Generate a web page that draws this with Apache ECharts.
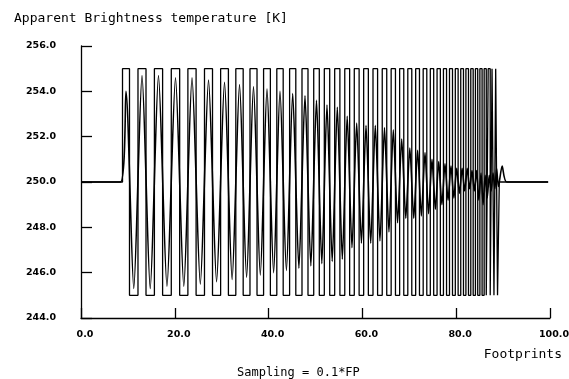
<!DOCTYPE html>
<html>
<head>
<meta charset="utf-8">
<script src="https://cdn.jsdelivr.net/npm/echarts@6/dist/echarts.min.js"></script>
<style>
  html, body { margin: 0; padding: 0; background: #fff; }
  #chart { width: 569px; height: 379px; }
</style>
</head>
<body>
<div id="chart"></div>
<script>
// square wave edges (footprints)
const riseAt = [8.85, 12.15, 15.65, 19.25, 22.79, 26.33, 29.77, 33.01, 36.03, 38.93,
  41.75, 44.48, 47.12, 49.62, 51.88, 54.09, 56.24, 58.27, 60.27, 62.26,
  64.23, 66.13, 67.94, 69.68, 71.36, 72.96, 74.48, 75.92, 77.28, 78.57,
  79.81, 80.97, 82.07, 83.11, 84.10, 85.05, 85.96, 86.82, 87.64, 88.42];
const fallAt = [10.34, 13.86, 17.40, 21.04, 24.54, 28.04, 31.43, 34.58, 37.53, 40.38,
  43.11, 45.80, 48.40, 50.81, 53.03, 55.20, 57.28, 59.30, 61.27, 63.24,
  65.19, 67.05, 68.82, 70.53, 72.17, 73.73, 75.20, 76.62, 77.94, 79.21,
  80.41, 81.55, 82.62, 83.62, 84.59, 85.52, 86.41, 87.25, 88.05, 88.81];
const waveEnd = 89.19;
const highLevel = 255;
const lowLevel = 245;
const baseLevel = 250;
const lineEnd = 99.6;

// response curve: peaks and troughs
const peakAt = [9.59, 13.01, 16.52, 20.15, 23.67, 27.19, 30.60, 33.80, 36.78, 39.66,
  42.43, 45.14, 47.76, 50.21, 52.45, 54.65, 56.76, 58.78, 60.77, 62.75,
  64.71, 66.59, 68.38, 70.11, 71.77, 73.35, 74.84, 76.27, 77.61, 78.89,
  80.11, 81.26, 82.35, 83.37, 84.35, 85.29, 86.18, 87.04, 87.85, 88.61];
const peakVal = [254.0, 254.7, 254.7, 254.6, 254.6, 254.5, 254.4, 254.3, 254.2, 254.1,
  254.0, 253.9, 253.8, 253.6, 253.4, 253.3, 252.9, 252.6, 252.5, 252.5,
  252.4, 252.3, 251.9, 251.5, 251.4, 251.3, 251.0, 250.9, 250.8, 250.7,
  250.6, 250.6, 250.6, 250.5, 250.5, 250.4, 250.3, 250.3, 250.4, 250.6];
const troughAt = [11.25, 14.76, 18.33, 21.92, 25.44, 28.91, 32.22, 35.31, 38.23, 41.07,
  43.80, 46.46, 49.01, 51.35, 53.56, 55.72, 57.78, 59.79, 61.77, 63.74,
  65.66, 67.50, 69.25, 70.95, 72.57, 74.11, 75.56, 76.95, 78.26, 79.51,
  80.69, 81.81, 82.87, 83.86, 84.82, 85.74, 86.62, 87.45, 88.24, 89.00];
const troughVal = [245.3, 245.3, 245.4, 245.4, 245.5, 245.6, 245.7, 245.8, 245.9, 246.0,
  246.1, 246.2, 246.3, 246.4, 246.5, 246.6, 247.1, 247.3, 247.3, 247.4,
  247.8, 248.2, 248.4, 248.4, 248.5, 248.6, 248.8, 249.0, 249.2, 249.3,
  249.5, 249.6, 249.7, 249.6, 249.2, 249.0, 249.3, 249.6, 249.7, 249.8];
const respLead = [[0, 250], [8.4, 250]];
const respTail = [[89.8, 250.7], [90.8, 250], [99.6, 250]];

const yTicks = [244, 256, 2];
const xTicks = [0, 100, 20];

let squareData = [[0, baseLevel]];
for (let i = 0; i < riseAt.length; i++) {
  squareData.push([riseAt[i], highLevel]);
  squareData.push([fallAt[i], lowLevel]);
}
squareData.push([waveEnd, baseLevel]);
squareData.push([lineEnd, baseLevel]);

let respData = respLead.slice();
for (let i = 0; i < peakAt.length; i++) {
  respData.push([peakAt[i], peakVal[i]]);
  respData.push([troughAt[i], troughVal[i]]);
}
respData = respData.concat(respTail);

const myChart = echarts.init(document.getElementById("chart"), null, { renderer: "canvas" });
const txt = { color: "#000", fontFamily: "DejaVu Sans Mono", fontSize: 13, fontWeight: "normal" };

let option = {
  animation: false,
  backgroundColor: "#fff",
  title: [
    { text: "Apparent Brightness temperature [K]", left: 9, top: 7, textStyle: txt },
    { text: "Footprints", right: 2, top: 343, textStyle: txt },
    { text: "Sampling = 0.1*FP", left: 232, top: 362, textStyle: { ...txt, fontSize: 12 } },
  ],
  grid: { left: 81, right: 19, top: 46, bottom: 61, containLabel: false, outerBoundsMode: "none" },
  xAxis: {
    type: "value",
    min: xTicks[0],
    max: xTicks[1],
    interval: xTicks[2],
    axisLine: { lineStyle: { color: "#000", width: 1.3 } },
    axisTick: { show: true, inside: true, length: 10, lineStyle: { color: "#000", width: 1.3 } },
    axisLabel: {
      color: "#000", fontFamily: "DejaVu Sans", fontWeight: "bold", fontSize: 9.5, margin: 12,
      padding: [0, 0, 0, 8],
      formatter: (v) => v.toFixed(1),
    },
    splitLine: { show: false },
  },
  yAxis: {
    type: "value",
    min: yTicks[0],
    max: yTicks[1],
    interval: yTicks[2],
    axisLine: { show: true, lineStyle: { color: "#000", width: 1.3 } },
    axisTick: { show: true, inside: true, length: 11, lineStyle: { color: "#000", width: 1.3 } },
    axisLabel: {
      color: "#000", fontFamily: "DejaVu Sans", fontWeight: "bold", fontSize: 9.5, margin: 25,
      formatter: (v) => v.toFixed(1),
    },
    splitLine: { show: false },
  },
  series: [
    {
      type: "line",
      name: "square",
      data: squareData,
      step: "end",
      symbol: "none",
      lineStyle: { color: "#000", width: 1.3 },
    },
    {
      type: "line",
      name: "response",
      data: respData,
      smooth: 0.25,
      symbol: "none",
      lineStyle: { color: "#000", width: 1.6 },
    },
  ],
};
myChart.setOption(option);
</script>
</body>
</html>
